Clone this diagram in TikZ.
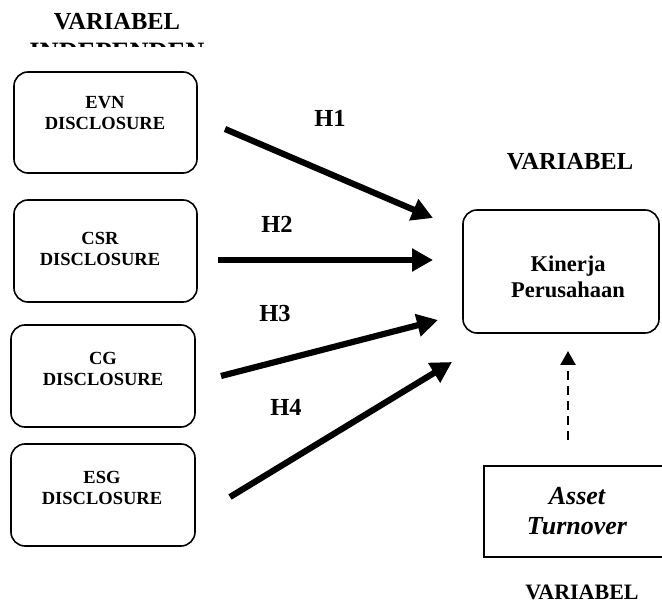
\documentclass[tikz,border=0pt]{standalone}
\usepackage{fontspec}
\setmainfont{Liberation Serif}
\usetikzlibrary{arrows.meta}
\begin{document}
\begin{tikzpicture}[x=1pt,y=-1pt,
  box/.style={draw,line width=1.6pt,rounded corners=14pt},
  sqbox/.style={draw,line width=1.6pt},
  boxtxt/.style={align=center,font=\fontsize{18.5}{21}\selectfont\bfseries,inner sep=0pt},
  head/.style={font=\fontsize{24.5}{27}\selectfont\bfseries,inner sep=0pt},
  hlab/.style={font=\fontsize{24.5}{27}\selectfont\bfseries,inner sep=0pt},
  bigarrow/.style={line width=6.2pt,-{Triangle[length=21pt,width=22pt]}},
  dasharrow/.style={line width=2.5pt,dash pattern=on 9pt off 6pt,-{Triangle[length=14pt,width=15pt]}}]
\useasboundingbox (0,0) rectangle (662,604);
\begin{scope}
\clip (0,0) rectangle (662,604);
% headings
\node[head] (v1) at (117,22) {VARIABEL};
\begin{scope}
\clip (0,41.5) rectangle (662,47);
\node[head,font=\fontsize{26.5}{28}\selectfont\bfseries,anchor=base] (v1b) at (117,60.5) {INDEPENDEN};
\end{scope}
\node[head] (v2) at (570,162) {VARIABEL};
\node[head,font=\fontsize{22}{24}\selectfont\bfseries] (v3) at (582,592) {VARIABEL};
% left boxes
\path[box] (14,72) rectangle (197,173);
\path[box] (14,200) rectangle (197,302);
\path[box] (11,325) rectangle (195,427);
\path[box] (11,444) rectangle (195,546);
\node[boxtxt] (evn) at (105,113) {EVN\\DISCLOSURE};
\node[boxtxt] (csr) at (100,249) {CSR\\DISCLOSURE};
\node[boxtxt] (cg) at (103,369) {CG\\DISCLOSURE};
\node[boxtxt] (esg) at (102,488) {ESG\\DISCLOSURE};
% right boxes
\path[box] (463,210) rectangle (659,333);
\node[boxtxt,font=\fontsize{22.5}{26.5}\selectfont\bfseries] (kp) at (568,277) {Kinerja\\Perusahaan};
\path[sqbox] (484,466) rectangle (690,557);
\node[boxtxt,font=\fontsize{26}{30}\selectfont\bfseries\itshape] (at) at (577,511) {Asset\\Turnover};
% arrows
\coordinate (a1s) at (225,129); \coordinate (a1e) at (433,218);
\coordinate (a2s) at (218,260); \coordinate (a2e) at (433,260);
\coordinate (a3s) at (221,376); \coordinate (a3e) at (438,320);
\coordinate (a4s) at (230,497); \coordinate (a4e) at (452,362);
\coordinate (dss) at (568,440); \coordinate (dse) at (568,351);
\draw[bigarrow] (a1s) -- (a1e);
\draw[bigarrow] (a2s) -- (a2e);
\draw[bigarrow] (a3s) -- (a3e);
\draw[bigarrow] (a4s) -- (a4e);
\draw[dasharrow] (dss) -- (dse);
\node[hlab] (h1) at (330,118) {H1};
\node[hlab] (h2) at (277,224) {H2};
\node[hlab] (h3) at (275,314) {H3};
\node[hlab] (h4) at (286,407) {H4};
\end{scope}
\end{tikzpicture}
\end{document}
